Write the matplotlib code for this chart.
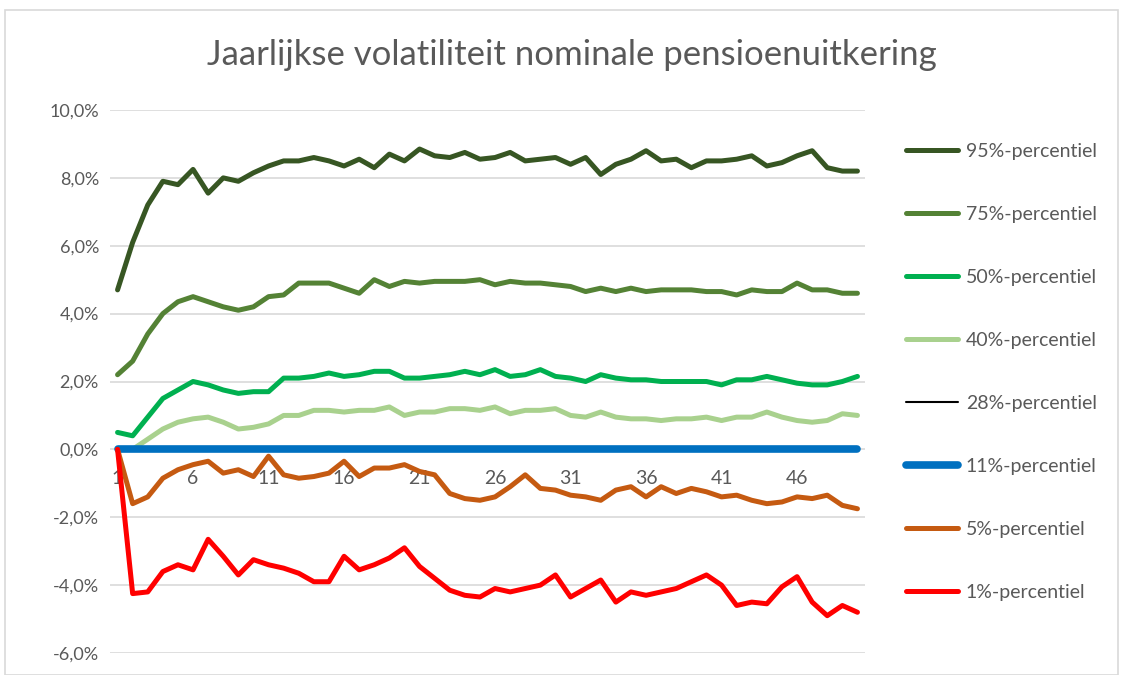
import matplotlib
matplotlib.use("Agg")
import matplotlib.pyplot as plt
from matplotlib.patches import Rectangle
import numpy as np

plt.rcParams['font.family'] = ['Lato', 'DejaVu Sans']

years = list(range(1, 51))

p95 = [4.7, 6.1, 7.2, 7.9, 7.8, 8.25, 7.55, 8.0, 7.9, 8.15,
       8.35, 8.5, 8.5, 8.6, 8.5, 8.35, 8.55, 8.3, 8.7, 8.5,
       8.85, 8.65, 8.6, 8.75, 8.55, 8.6, 8.75, 8.5, 8.55, 8.6,
       8.4, 8.6, 8.1, 8.4, 8.55, 8.8, 8.5, 8.55, 8.3, 8.5,
       8.5, 8.55, 8.65, 8.35, 8.45, 8.65, 8.8, 8.3, 8.2, 8.2]
p75 = [2.2, 2.6, 3.4, 4.0, 4.35, 4.5, 4.35, 4.2, 4.1, 4.2,
       4.5, 4.55, 4.9, 4.9, 4.9, 4.75, 4.6, 5.0, 4.8, 4.95,
       4.9, 4.95, 4.95, 4.95, 5.0, 4.85, 4.95, 4.9, 4.9, 4.85,
       4.8, 4.65, 4.75, 4.65, 4.75, 4.65, 4.7, 4.7, 4.7, 4.65,
       4.65, 4.55, 4.7, 4.65, 4.65, 4.9, 4.7, 4.7, 4.6, 4.6]
p50 = [0.5, 0.4, 0.95, 1.5, 1.75, 2.0, 1.9, 1.75, 1.65, 1.7,
       1.7, 2.1, 2.1, 2.15, 2.25, 2.15, 2.2, 2.3, 2.3, 2.1,
       2.1, 2.15, 2.2, 2.3, 2.2, 2.35, 2.15, 2.2, 2.35, 2.15,
       2.1, 2.0, 2.2, 2.1, 2.05, 2.05, 2.0, 2.0, 2.0, 2.0,
       1.9, 2.05, 2.05, 2.15, 2.05, 1.95, 1.9, 1.9, 2.0, 2.15]
p40 = [0.0, 0.0, 0.3, 0.6, 0.8, 0.9, 0.95, 0.8, 0.6, 0.65,
       0.75, 1.0, 1.0, 1.15, 1.15, 1.1, 1.15, 1.15, 1.25, 1.0,
       1.1, 1.1, 1.2, 1.2, 1.15, 1.25, 1.05, 1.15, 1.15, 1.2,
       1.0, 0.95, 1.1, 0.95, 0.9, 0.9, 0.85, 0.9, 0.9, 0.95,
       0.85, 0.95, 0.95, 1.1, 0.95, 0.85, 0.8, 0.85, 1.05, 1.0]
p28 = [0.0] * 50
p11 = [0.0] * 50
p05 = [0.0, -1.6, -1.4, -0.85, -0.6, -0.45, -0.35, -0.7, -0.6, -0.8,
       -0.2, -0.75, -0.85, -0.8, -0.7, -0.35, -0.8, -0.55, -0.55, -0.45,
       -0.65, -0.75, -1.3, -1.45, -1.5, -1.4, -1.1, -0.75, -1.15, -1.2,
       -1.35, -1.4, -1.5, -1.2, -1.1, -1.4, -1.1, -1.3, -1.15, -1.25,
       -1.4, -1.35, -1.5, -1.6, -1.55, -1.4, -1.45, -1.35, -1.65, -1.75]
p01 = [0.0, -4.25, -4.2, -3.6, -3.4, -3.55, -2.65, -3.15, -3.7, -3.25,
       -3.4, -3.5, -3.65, -3.9, -3.9, -3.15, -3.55, -3.4, -3.2, -2.9,
       -3.45, -3.8, -4.15, -4.3, -4.35, -4.1, -4.2, -4.1, -4.0, -3.7,
       -4.35, -4.1, -3.85, -4.5, -4.2, -4.3, -4.2, -4.1, -3.9, -3.7,
       -4.0, -4.6, -4.5, -4.55, -4.05, -3.75, -4.5, -4.9, -4.6, -4.8]

series = [
    ("95%-percentiel", p95, "#375623", 3.6),
    ("75%-percentiel", p75, "#548235", 3.6),
    ("50%-percentiel", p50, "#00B050", 3.6),
    ("40%-percentiel", p40, "#A9D18E", 3.6),
    ("28%-percentiel", p28, "#000000", 1.5),
    ("11%-percentiel", p11, "#0070C0", 5.5),
    ("5%-percentiel", p05, "#C55A11", 3.6),
    ("1%-percentiel", p01, "#FF0000", 3.6),
]

xticks = [1, 6, 11, 16, 21, 26, 31, 36, 41, 46]
yticks = [-6, -4, -2, 0, 2, 4, 6, 8, 10]

W, H = 1123, 675
fig = plt.figure(figsize=(W / 100, H / 100), dpi=100)
fig.patches.append(Rectangle((5 / W, 0), 1113 / W, 1 - 10 / H, transform=fig.transFigure,
                             fill=False, edgecolor="#D9D9D9", linewidth=1.2))

ax = fig.add_axes([110 / W, 1 - 653 / H, 755 / W, 543 / H])
ax.set_xlim(0.5, 50.5)
ax.set_ylim(-6, 10)

for lbl, vals, col, lw in series:
    ax.plot(years, vals, color=col, linewidth=lw, label=lbl,
            solid_capstyle='round', solid_joinstyle='round')

ax.set_yticks(yticks)
ax.set_yticklabels([f"{v:.1f}%".replace(".", ",") for v in yticks])
ax.set_xticks(xticks)
ax.set_xticklabels([str(v) for v in xticks])
ax.yaxis.grid(True, color="#D9D9D9", linewidth=1.2)
ax.set_axisbelow(True)
for s in ax.spines.values():
    s.set_visible(False)
ax.spines['bottom'].set_position(('data', 0))
ax.tick_params(axis='both', length=0, labelsize=13, colors="#595959")
ax.tick_params(axis='x', labelsize=14, pad=15)
ax.tick_params(axis='y', pad=8)

fig.text(572 / W, 1 - 55 / H, "Jaarlijkse volatiliteit nominale pensioenuitkering",
         ha='center', va='center', fontsize=25, color="#595959")

leg = fig.legend(loc='upper left', bbox_to_anchor=(888 / W, 1 - 125 / H),
                 frameon=False, fontsize=14, labelspacing=2.37, handlelength=2.7,
                 handletextpad=0.4, labelcolor="#595959")

fig.savefig("out.png", dpi=100)
